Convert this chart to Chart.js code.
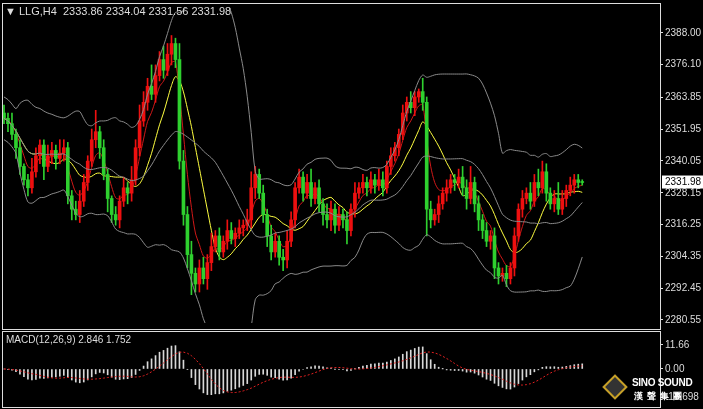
<!DOCTYPE html>
<html>
<head>
<meta charset="utf-8">
<script src="https://cdn.jsdelivr.net/npm/chart.js@4.4.0/dist/chart.umd.min.js"></script>
<style>
  body { margin: 0; background: #000; width: 703px; height: 409px; overflow: hidden; font-family: "Liberation Sans", Arial, sans-serif; }
  #main { position: absolute; left: 0; top: 0; }
  #macd { position: absolute; left: 0; top: 331px; }
  .frame { position: absolute; border: 1px solid #ddd; }
  .txt { position: absolute; color: #ddd; font-size: 11px; white-space: nowrap; }
</style>
</head>
<body>
<canvas id="main" width="703" height="331"></canvas>
<canvas id="macd" width="703" height="78"></canvas>
<div class="frame" style="left:2px;top:3px;width:657px;height:325px"></div>
<div class="frame" style="left:2px;top:331px;width:657px;height:75px"></div>
<div class="txt" style="left:5px;top:5px">&#9660; LLG,H4&nbsp; 2333.86 2334.04 2331.56 2331.98</div>
<div class="txt" style="left:6px;top:334px;font-size:10px">MACD(12,26,9) 2.846 1.752</div>
<div class="txt" style="left:632px;top:377px;font-size:10px;font-weight:bold;color:#fff;letter-spacing:-0.3px">SINO SOUND</div>
<div class="txt" style="left:634px;top:390px;font-size:9px;font-weight:bold;color:#fff;letter-spacing:4px">漢聲集團</div>
<div class="txt" style="left:606px;top:378px;width:14px;height:14px;border:2px solid #c9a227;transform:rotate(45deg);background:#333"></div>
<script>
// price data, H4 candles
const closes = [2356,2354,2350,2345,2338,2333,2330,2336,2342,2346,
  2338,2342,2344,2341,2343,2345,2327,2322,2320,2325,
  2332,2340,2348,2351,2345,2335,2326,2320,2318,2325,
  2330,2328,2333,2345,2355,2362,2368,2365,2372,2378,
  2374,2380,2384,2378,2340,2320,2305,2298,2294,2300,
  2296,2302,2308,2312,2306,2310,2314,2311,2313,2315,
  2316,2318,2330,2335,2328,2320,2312,2306,2310,2304,
  2303,2310,2318,2330,2334,2328,2332,2326,2330,2324,
  2320,2318,2322,2316,2320,2318,2314,2322,2328,2330,
  2332,2330,2333,2331,2333,2330,2338,2342,2345,2350,
  2358,2362,2360,2364,2366,2362,2322,2318,2320,2324,
  2328,2330,2333,2332,2334,2330,2326,2332,2324,2318,
  2314,2310,2312,2300,2297,2298,2296,2300,2312,2322,
  2326,2328,2325,2332,2330,2336,2328,2324,2326,2322,
  2326,2329,2331,2333,2332,2331.98];
const firstOpen = 2358;
const upWick = [3,2,4,2,3,1,2,5,3,2, 2,4,3,2,5,3,2,2,3,4, 3,2,4,8,2,3,2,1,3,2, 4,2,5,3,6,4,3,8,4,3, 5,4,3,2,6,4,3,5,2,3, 4,3,5,2,3,2,4,3,2,3, 2,4,6,3,2,3,2,4,3,2, 3,4,3,2,3,2,3,5,2,3, 2,4,3,2,3,2,3,2,4,2, 3,2,3,2,4,3,2,3,2,2, 3,2,4,2,1,5,2,3,2,3, 2,3,2,2,3,4,3,6,2,3, 2,3,2,3,2,2,3,2,3,2, 3,2,4,3,5,4,3,2,3,6, 3,2,3,2,2,1];
const dnWick = [2,3,2,4,3,2,3,2,2,3, 5,2,3,4,2,3,3,4,2,3, 2,3,2,3,4,2,5,3,2,3, 2,4,3,2,3,2,3,2,3,2, 3,2,4,3,3,4,5,8,3,3, 2,4,3,2,3,2,3,2,3,2, 3,2,3,4,2,3,4,3,2,3, 4,3,2,3,2,3,2,3,2,3, 4,3,4,3,2,3,5,2,3,2, 2,3,2,3,2,3,2,3,2,3, 2,3,2,3,2,3,10,3,2,3, 2,3,2,3,2,3,4,2,3,4, 3,2,3,4,3,2,3,2,3,2, 3,2,3,2,3,2,3,2,3,2, 2,3,2,3,2,1];
const priceTicks = [2280.55,2292.45,2304.35,2316.25,2328.15,2340.05,2351.95,2363.85,2376.10,2388.00];
const macdTicks = [-13.698, 0, 11.66];
const lastPrice = 2331.98;
const emptySlots = 19;

const n = closes.length;
const labels = [];
for (let i = 0; i < n + emptySlots; i++) labels.push(i);
const opens = closes.map((c, i) => i === 0 ? firstOpen : closes[i - 1]);
const highs = closes.map((c, i) => Math.max(c, opens[i]) + upWick[i]);
const lows = closes.map((c, i) => Math.min(c, opens[i]) - dnWick[i]);

function sma(arr, p) {
  return arr.map((v, i) => {
    const s = arr.slice(Math.max(0, i - p + 1), i + 1);
    return s.reduce((a, b) => a + b, 0) / s.length;
  });
}
function ema(arr, p) {
  const k = 2 / (p + 1); let prev = arr[0];
  return arr.map(v => (prev = prev + k * (v - prev)));
}
const mid = sma(closes, 20);
const upper = closes.map((c, i) => {
  const s = closes.slice(Math.max(0, i - 19), i + 1);
  const sd = Math.sqrt(s.reduce((a, b) => a + (b - mid[i]) ** 2, 0) / s.length);
  return mid[i] + 2 * Math.max(sd, 4);
});
const lower = upper.map((u, i) => 2 * mid[i] - u);
const maFast = ema(closes, 5);
const maSlow = sma(closes, 10);
const e12 = ema(closes, 12), e26 = ema(closes, 26);
const macdMain = e12.map((v, i) => v - e26[i]);
const macdSig = sma(macdMain, 9);

// MT4 colour scheme here: rising candles red, falling candles green
const green = '#2fd02f', red = '#ee1010';
const col = closes.map((c, i) => c >= opens[i] ? red : green);

const fixedRight = { afterFit: s => { s.width = 43; } };
const tickFont = { size: 10, family: '"Liberation Sans", Arial, sans-serif' };

const lastLabel = {
  id: 'lastLabel',
  afterDraw(chart) {
    const y = chart.scales.y.getPixelForValue(lastPrice);
    const ctx = chart.ctx;
    ctx.fillStyle = '#fff';
    ctx.fillRect(662, y - 7, 41, 13);
    ctx.fillStyle = '#000';
    ctx.font = '10px "Liberation Sans", Arial, sans-serif';
    ctx.textBaseline = 'middle';
    ctx.fillText(lastPrice.toFixed(2), 665, y);
  }
};

new Chart(document.getElementById('main'), {
  type: 'bar',
  data: {
    labels: labels,
    datasets: [
      { type: 'line', data: upper, borderColor: '#8a8a8a', borderWidth: 1, pointRadius: 0, tension: 0.3 },
      { type: 'line', data: mid, borderColor: '#8a8a8a', borderWidth: 1, pointRadius: 0, tension: 0.3 },
      { type: 'line', data: lower, borderColor: '#8a8a8a', borderWidth: 1, pointRadius: 0, tension: 0.3 },
      { data: closes.map((c, i) => [lows[i], highs[i]]), backgroundColor: col, barThickness: 1, grouped: false },
      { data: closes.map((c, i) => [opens[i], c]), backgroundColor: col, barThickness: 3, grouped: false, minBarLength: 1 },
      { type: 'line', data: maFast, borderColor: '#d01818', borderWidth: 1, pointRadius: 0, tension: 0.3 },
      { type: 'line', data: maSlow, borderColor: '#ffff40', borderWidth: 1, pointRadius: 0, tension: 0.3 }
    ]
  },
  options: {
    animation: false, responsive: false,
    layout: { padding: { top: 4, bottom: 2, left: 2 } },
    plugins: { legend: { display: false }, tooltip: { enabled: false } },
    scales: {
      x: { display: false, offset: true },
      y: {
        position: 'right', min: 2279.4, max: 2397.3,
        afterBuildTicks: s => { s.ticks = priceTicks.map(v => ({ value: v })); },
        ...fixedRight,
        grid: { drawOnChartArea: false, color: '#ddd', tickLength: 3 },
        border: { display: false },
        ticks: { color: '#ddd', padding: 2, font: tickFont, callback: v => v.toFixed(2) }
      }
    }
  },
  plugins: [lastLabel]
});

new Chart(document.getElementById('macd'), {
  type: 'bar',
  data: {
    labels: labels,
    datasets: [
      { type: 'line', data: macdSig, borderColor: '#e02020', borderWidth: 1, borderDash: [2, 2], pointRadius: 0 },
      { data: macdMain, backgroundColor: '#d8d8d8', barThickness: 1 }
    ]
  },
  options: {
    animation: false, responsive: false,
    layout: { padding: { top: 2, bottom: 2, left: 2 } },
    plugins: { legend: { display: false }, tooltip: { enabled: false } },
    scales: {
      x: { display: false, offset: true },
      y: {
        position: 'right', min: -15.5, max: 14.5,
        afterBuildTicks: s => { s.ticks = macdTicks.map(v => ({ value: v })); },
        ...fixedRight,
        grid: { drawOnChartArea: false, color: '#ddd', tickLength: 3 },
        border: { display: false },
        ticks: { color: '#ddd', padding: 2, font: tickFont, callback: v => v === 0 ? '0.00' : String(v) }
      }
    }
  }
});
</script>
</body>
</html>
